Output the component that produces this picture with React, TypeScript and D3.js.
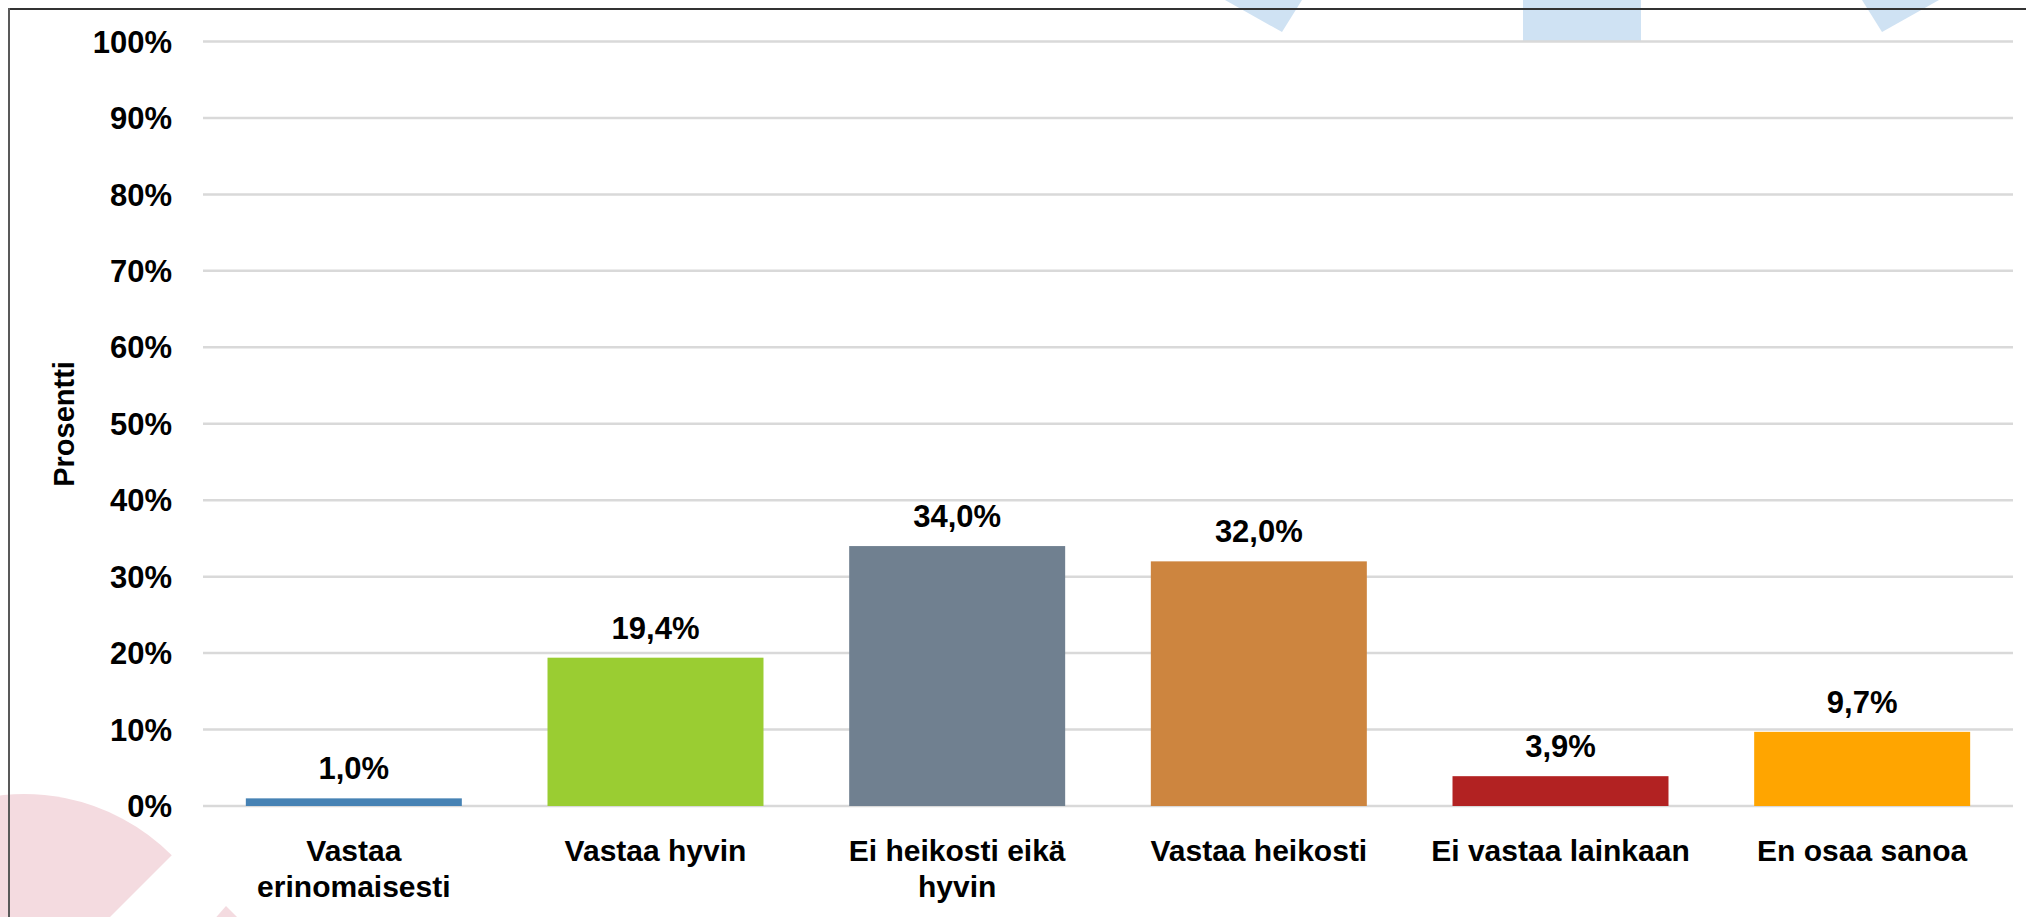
import { useEffect, useRef } from 'react';
import * as d3 from 'd3';

// survey answers, one bar per answer
const categories = [
  ['Vastaa', 'erinomaisesti'],
  ['Vastaa hyvin'],
  ['Ei heikosti eikä', 'hyvin'],
  ['Vastaa heikosti'],
  ['Ei vastaa lainkaan'],
  ['En osaa sanoa'],
];
const values = [1.0, 19.4, 34.0, 32.0, 3.9, 9.7];
const colors = ['#4682B4', '#9ACD32', '#708090', '#CD853F', '#B22222', '#FFA500'];
const yTicks = [0, 10, 20, 30, 40, 50, 60, 70, 80, 90, 100];
const yTitle = 'Prosentti';

const App = () => {
  const chartRef = useRef<SVGSVGElement | null>(null);

  useEffect(() => {
    const W = 2026;
    const H = 917;
    const font = '"Liberation Sans", Arial, sans-serif';

    const svg = d3.select(chartRef.current);
    svg.selectAll('*').remove();
    svg.attr('width', W).attr('height', H);

    svg.append('rect').attr('width', W).attr('height', H).attr('fill', '#fff');

    // faint logo shapes in the background
    const bg = svg.append('g');
    bg.append('path').attr('d', 'M1225,0L1302,0L1282,32Z').attr('fill', '#cfe2f3');
    bg.append('path').attr('d', 'M1862,0L1939,0L1882,32Z').attr('fill', '#cfe2f3');
    bg.append('rect').attr('x', 1523).attr('y', 0).attr('width', 118).attr('height', 41).attr('fill', '#cfe2f3');
    const arc = d3.arc()
      .innerRadius(0)
      .outerRadius(209)
      .startAngle(-Math.PI / 2)
      .endAngle(Math.PI / 4);
    bg.append('path')
      .attr('transform', 'translate(24,1003)')
      .attr('d', arc({} as any) as string)
      .attr('fill', '#f4dbe0');
    bg.append('path').attr('d', 'M226,906L205,930L250,930Z').attr('fill', '#f4dbe0');

    const x = d3
      .scaleBand()
      .domain(categories.map(d => d.join(' ')))
      .range([203, 2013])
      .paddingInner(0.284)
      .paddingOuter(0.142);

    const y = d3.scaleLinear().domain([0, 100]).range([806, 41.5]);

    // gridlines
    svg
      .append('g')
      .selectAll('line')
      .data(yTicks)
      .join('line')
      .attr('x1', 203)
      .attr('x2', 2013)
      .attr('y1', d => y(d))
      .attr('y2', d => y(d))
      .attr('stroke', '#d9d9d9')
      .attr('stroke-width', 2.5);

    // tick labels
    svg
      .append('g')
      .selectAll('text')
      .data(yTicks)
      .join('text')
      .attr('x', 172)
      .attr('y', d => y(d))
      .attr('dy', '0.36em')
      .attr('text-anchor', 'end')
      .attr('font-family', font)
      .attr('font-weight', 'bold')
      .attr('font-size', 31)
      .text(d => `${d}%`);

    svg
      .append('text')
      .attr('transform', 'translate(74,424) rotate(-90)')
      .attr('text-anchor', 'middle')
      .attr('font-family', font)
      .attr('font-weight', 'bold')
      .attr('font-size', 29)
      .text(yTitle);

    // bars
    const bars = svg.append('g');
    bars
      .selectAll('rect')
      .data(values)
      .join('rect')
      .attr('x', (d, i) => x(categories[i].join(' '))!)
      .attr('y', d => y(d))
      .attr('width', x.bandwidth())
      .attr('height', d => y(0) - y(d))
      .attr('fill', (d, i) => colors[i]);

    bars
      .selectAll('text')
      .data(values)
      .join('text')
      .attr('x', (d, i) => x(categories[i].join(' '))! + x.bandwidth() / 2)
      .attr('y', d => y(d) - 19)
      .attr('text-anchor', 'middle')
      .attr('font-family', font)
      .attr('font-weight', 'bold')
      .attr('font-size', 31)
      .text(d => d.toFixed(1).replace('.', ',') + '%');

    // category labels
    const cat = svg.append('g');
    categories.forEach(lines => {
      const cx = x(lines.join(' '))! + x.bandwidth() / 2;
      const t = cat
        .append('text')
        .attr('text-anchor', 'middle')
        .attr('font-family', font)
        .attr('font-weight', 'bold')
        .attr('font-size', 30);
      lines.forEach((l, j) => {
        t.append('tspan').attr('x', cx).attr('y', 861 + j * 36).text(l);
      });
    });

    // frame
    svg.append('line').attr('x1', 8).attr('x2', W).attr('y1', 9).attr('y2', 9).attr('stroke', '#333').attr('stroke-width', 2);
    svg.append('line').attr('x1', 9).attr('x2', 9).attr('y1', 8).attr('y2', H).attr('stroke', '#595959').attr('stroke-width', 2);
  }, []);

  return (
    <svg ref={chartRef} style={{ position: 'absolute', left: 0, top: 0, display: 'block' }} />
  );
};

export default App;
